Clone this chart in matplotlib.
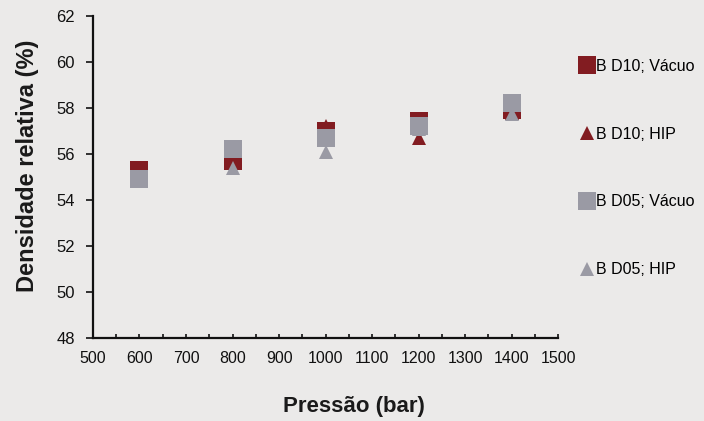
import matplotlib.pyplot as plt
from matplotlib.lines import Line2D

plt.rcParams['font.family'] = ['Liberation Sans', 'DejaVu Sans']

# Pressão (bar) e densidade relativa (%) para cada série
pressao = [600, 800, 1000, 1200, 1400]
bd10_vacuo = [55.3, 55.7, 57.0, 57.45, 57.9]
bd10_hip = [55.0, 55.6, 57.2, 56.7, 57.8]
bd05_vacuo = [54.9, 56.2, 56.7, 57.2, 58.2]
bd05_hip = [54.9, 55.4, 56.1, 57.1, 57.75]

nomes = ['B D10; Vácuo', 'B D10; HIP', 'B D05; Vácuo', 'B D05; HIP']

vermelho = '#821c21'
cinza = '#9a9aa4'
fundo = '#ebeae9'

fig = plt.figure(figsize=(7.04, 4.21), dpi=100, facecolor=fundo)
ax = fig.add_axes([0.132, 0.197, 0.661, 0.765], facecolor=fundo)

series = [
    (bd10_vacuo, 's', vermelho, 12.5),
    (bd10_hip, '^', vermelho, 9.5),
    (bd05_vacuo, 's', cinza, 12.5),
    (bd05_hip, '^', cinza, 9.5),
]
handles = []
for (vals, mk, cor, ms), nome in zip(series, nomes):
    ax.plot(pressao, vals, linestyle='none', marker=mk, color=cor,
            markersize=ms, markeredgewidth=0)
    handles.append(Line2D([], [], linestyle='none', marker=mk, color=cor,
                          markersize=ms, markeredgewidth=0, label=nome))

ax.set_xlim(500, 1500)
ax.set_ylim(48, 62)
ax.set_xticks(range(500, 1501, 100))
ax.set_xticks(range(550, 1500, 100), minor=True)
ax.set_yticks(range(48, 63, 2))

for s in ['top', 'right']:
    ax.spines[s].set_visible(False)
for s in ['left', 'bottom']:
    ax.spines[s].set_linewidth(1.6)
    ax.spines[s].set_color('#111111')

ax.tick_params(axis='x', which='both', direction='in', length=3, width=1.2,
               labelsize=11.5, pad=9, colors='#111111')
ax.tick_params(axis='y', direction='out', length=5, width=1.2,
               labelsize=12, pad=8, colors='#111111')

ax.set_xlabel('Pressão (bar)', fontsize=16, fontweight='bold',
              color='#1a1a1a')
ax.set_ylabel('Densidade relativa (%)', fontsize=17, fontweight='bold',
              color='#1a1a1a')
ax.xaxis.set_label_coords(0.56, -0.18)
ax.yaxis.set_label_coords(-0.116, 0.535)

fig.legend(handles=handles, loc='upper left', bbox_to_anchor=(0.815, 0.875),
           frameon=False, fontsize=11.5, handlelength=0.9, handletextpad=0.1,
           labelspacing=3.3, borderaxespad=0)

fig.savefig('out.png', dpi=100, facecolor=fundo)
